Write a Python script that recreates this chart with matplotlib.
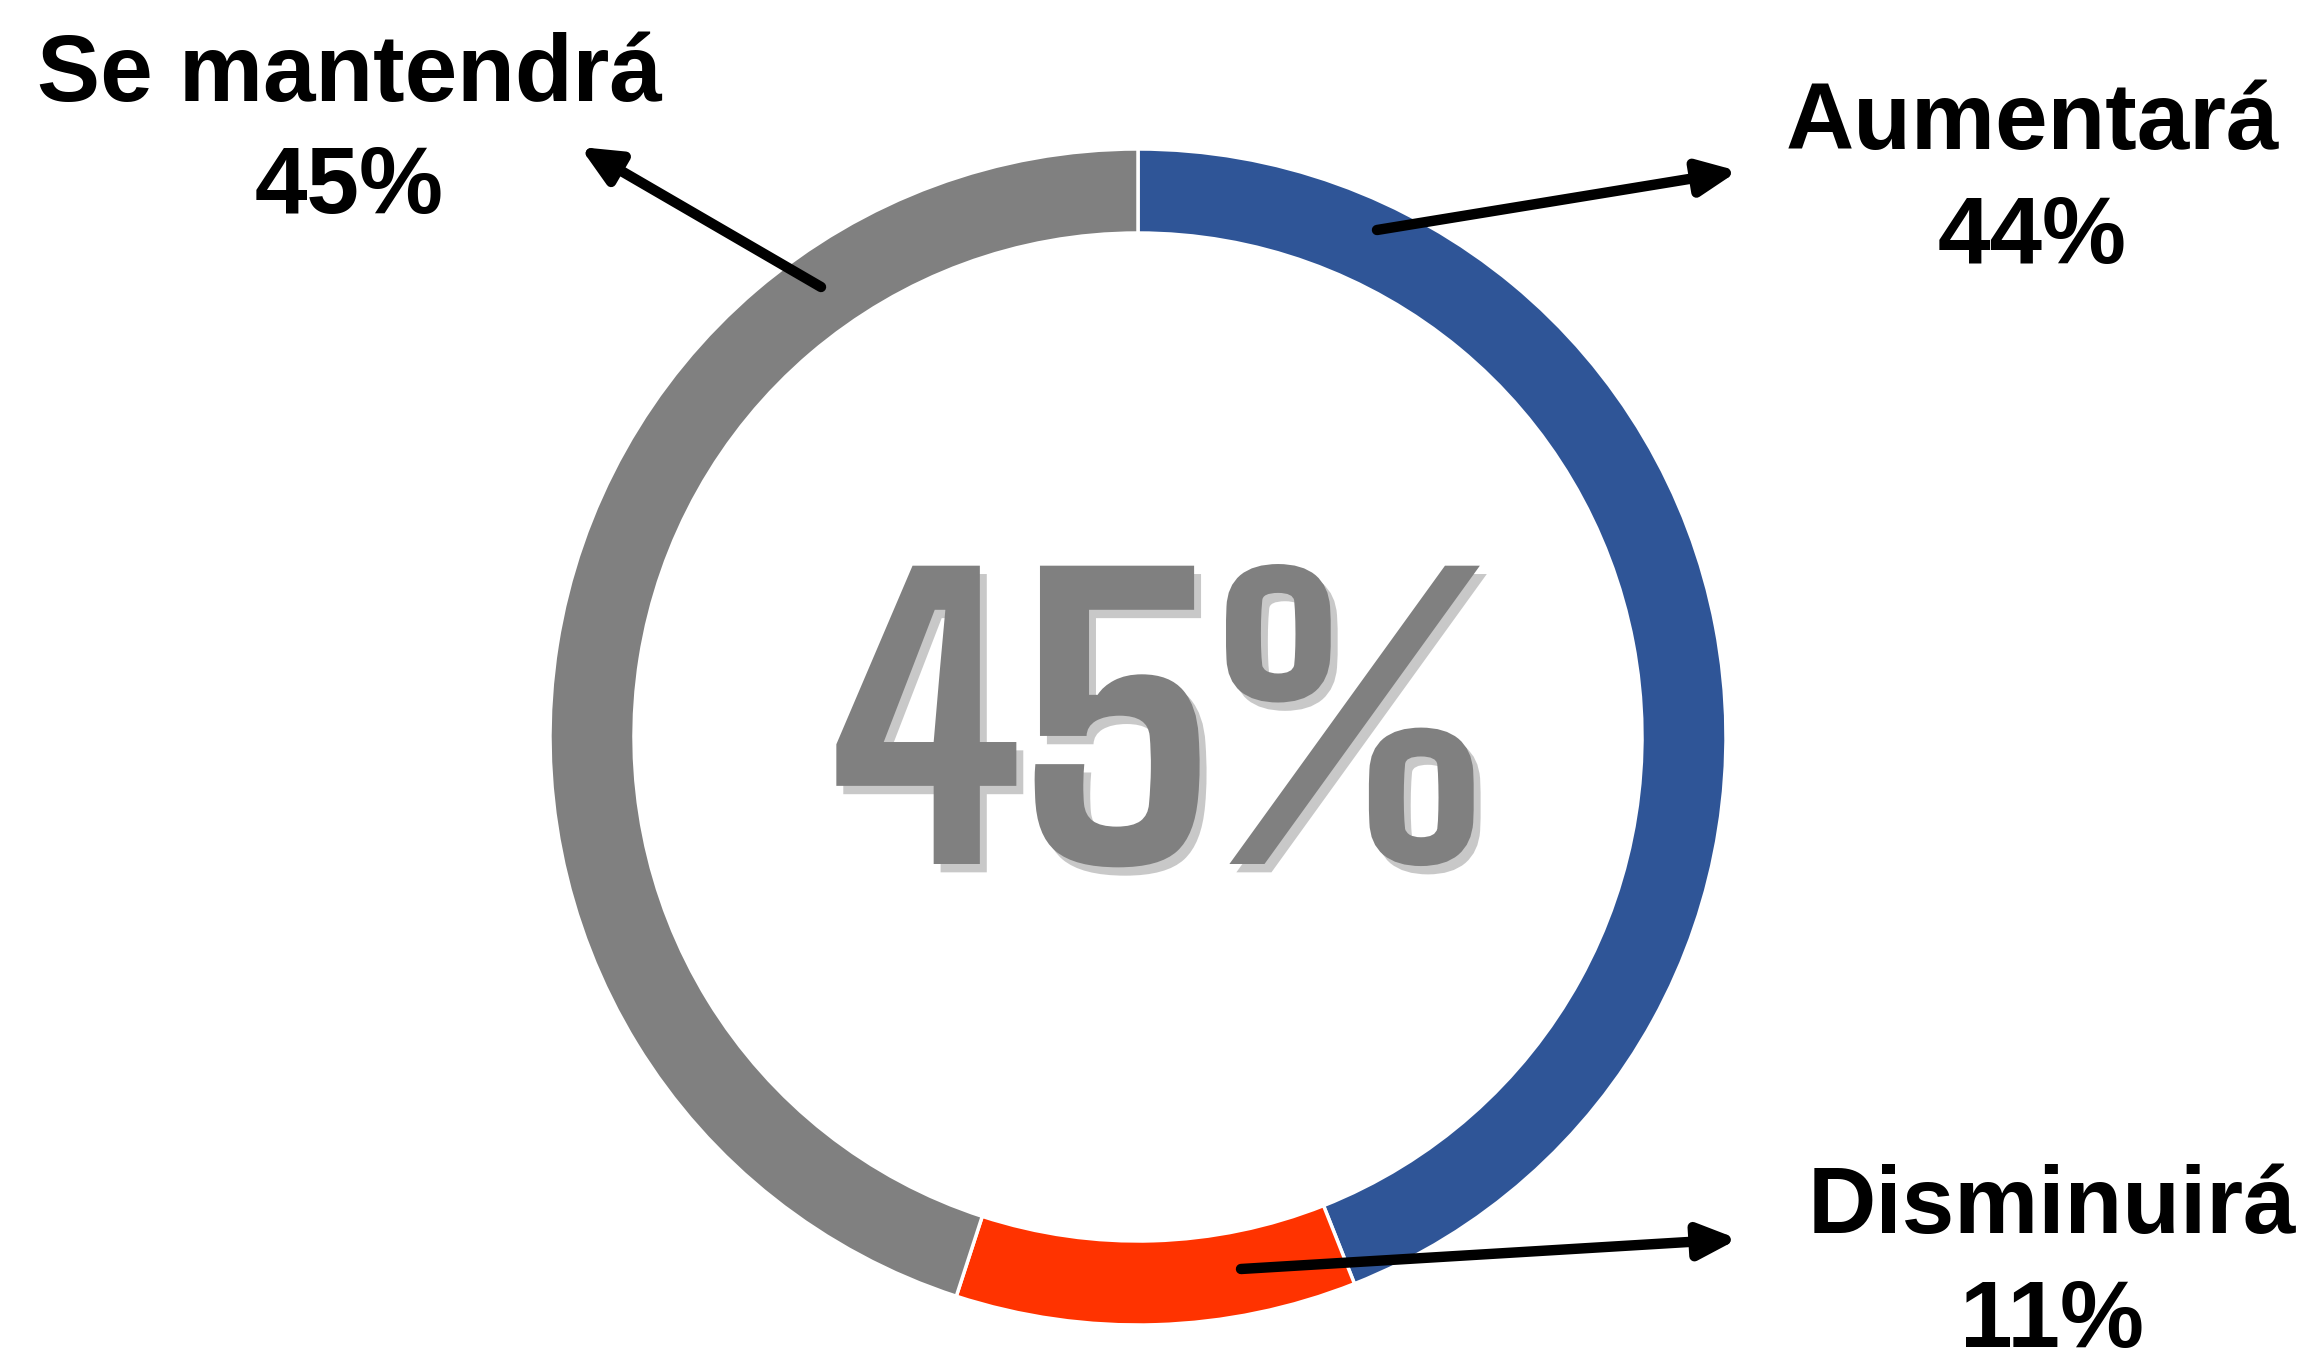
import matplotlib
matplotlib.use("Agg")
import matplotlib.pyplot as plt
import matplotlib.patheffects as pe
from matplotlib.font_manager import FontProperties

categories = ["Aumentará", "Disminuirá", "Se mantendrá"]
values = [44, 11, 45]
colors = ["#2F5597", "#FF3300", "#808080"]
center_label = "45%"

W, H = 2311, 1351
fig = plt.figure(figsize=(W / 100, H / 100), dpi=100)
ax = fig.add_axes([0, 0, 1, 1])

cx, cy = 1138, H - 737
R = 588
ring = 84

ax.pie(values, colors=colors, startangle=90, counterclock=False,
       radius=R, center=(cx, cy),
       wedgeprops=dict(width=ring, edgecolor="white", linewidth=2.5))
ax.set_xlim(0, W)
ax.set_ylim(0, H)
ax.set_aspect("equal")
ax.axis("off")

lab_fp = FontProperties(family=["Liberation Sans", "DejaVu Sans"], weight="bold", size=68)
big_fp = FontProperties(family=["Agdasima", "Saira Condensed", "DejaVu Sans"], weight="bold", size=308)

ax.text(1160, H - 728, center_label, ha="center", va="center_baseline",
        fontproperties=big_fp, color="#808080",
        path_effects=[pe.withSimplePatchShadow(offset=(5, -6), shadow_rgbFace="#777777", alpha=0.4)])

labels_pos = {
    "Se mantendrá": (349, 76, 188),
    "Aumentará": (2032, 125, 238),
    "Disminuirá": (2052, 1208, 1323),
}
arrows = {
    "Se mantendrá": ((821, 287), (580, 147)),
    "Aumentará": ((1377, 230), (1738, 171)),
    "Disminuirá": ((1241, 1269), (1738, 1239)),
}
for cat, val in zip(categories, values):
    x, y1, y2 = labels_pos[cat]
    ax.text(x, H - y1, cat, ha="center", va="center", fontproperties=lab_fp, color="black")
    ax.text(x, H - y2, f"{val}%", ha="center", va="center", fontproperties=lab_fp, color="black")
    (tx, ty), (hx, hy) = arrows[cat]
    ax.annotate("", xy=(hx, H - hy), xytext=(tx, H - ty),
                arrowprops=dict(arrowstyle="-|>,head_length=2.3,head_width=1.05",
                                mutation_scale=10, color="black", lw=7.5,
                                shrinkA=0, shrinkB=0))

fig.savefig("out.png", dpi=100, facecolor="white")
